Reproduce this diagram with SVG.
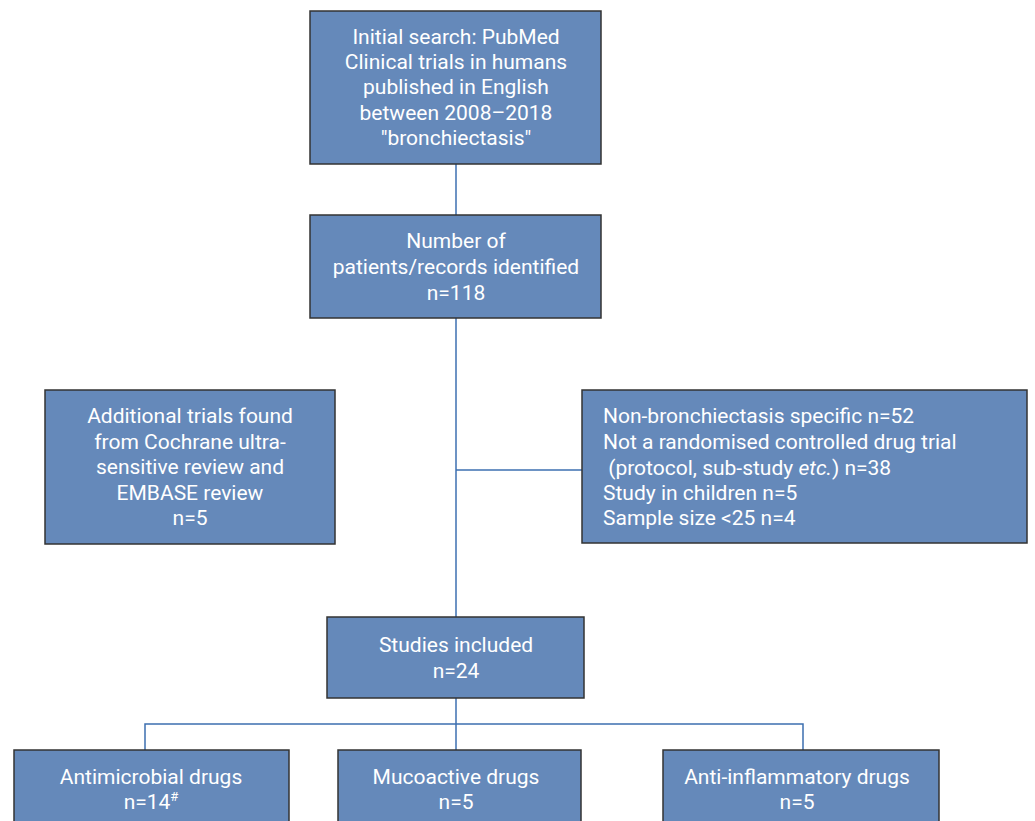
<svg xmlns="http://www.w3.org/2000/svg" width="1035" height="821" viewBox="0 0 1035 821">
<style>
.box{fill:#6589BA;stroke:#333;stroke-width:1.5}
.t{fill:#fff;font-family:Roboto,"Liberation Sans",sans-serif;font-size:21px}
.c{text-anchor:middle}
.ln{stroke:#3C6FB0;stroke-width:1.5;fill:none}
</style>
<rect width="1035" height="821" fill="#fff"/>
<g id="connectors">
<path class="ln" d="M456,164V215"/>
<path class="ln" d="M456,318V617"/>
<path class="ln" d="M456,470H582"/>
<path class="ln" d="M456,698V750"/>
<path class="ln" d="M145,750V724H803V750"/>
</g>
<g id="initial">
<rect class="box" x="310" y="11" width="291" height="153"/>
<text class="t c" x="456" y="44">Initial search: PubMed</text>
<text class="t c" x="456" y="69">Clinical trials in humans</text>
<text class="t c" x="456" y="94">published in English</text>
<text class="t c" x="456" y="120">between 2008–2018</text>
<text class="t c" x="456" y="145">"bronchiectasis"</text>
</g>
<g id="identified">
<rect class="box" x="310" y="215" width="291" height="103"/>
<text class="t c" x="456" y="248">Number of</text>
<text class="t c" x="456" y="274">patients/records identified</text>
<text class="t c" x="456" y="300">n=118</text>
</g>
<g id="additional">
<rect class="box" x="45" y="390" width="290" height="154"/>
<text class="t c" x="190" y="423">Additional trials found</text>
<text class="t c" x="190" y="449">from Cochrane ultra-</text>
<text class="t c" x="190" y="474">sensitive review and</text>
<text class="t c" x="190" y="500">EMBASE review</text>
<text class="t c" x="190" y="525">n=5</text>
</g>
<g id="excluded">
<rect class="box" x="582" y="390" width="445" height="153"/>
<text class="t" x="603" y="423">Non-bronchiectasis specific n=52</text>
<text class="t" x="603" y="449">Not a randomised controlled drug trial</text>
<text class="t" x="603" y="475" xml:space="preserve"> (protocol, sub-study <tspan font-style="italic">etc.</tspan>) n=38</text>
<text class="t" x="603" y="500">Study in children n=5</text>
<text class="t" x="603" y="525">Sample size &lt;25 n=4</text>
</g>
<g id="included">
<rect class="box" x="327" y="617" width="257" height="81"/>
<text class="t c" x="456" y="652">Studies included</text>
<text class="t c" x="456" y="678">n=24</text>
</g>
<g id="antimicrobial">
<rect class="box" x="14" y="750" width="275" height="80"/>
<text class="t c" x="151" y="784">Antimicrobial drugs</text>
<text class="t c" x="151" y="809">n=14<tspan font-size="13" dy="-8">#</tspan></text>
</g>
<g id="mucoactive">
<rect class="box" x="338" y="750" width="243" height="80"/>
<text class="t c" x="456" y="784">Mucoactive drugs</text>
<text class="t c" x="456" y="809">n=5</text>
</g>
<g id="antiinflammatory">
<rect class="box" x="663" y="750" width="276" height="80"/>
<text class="t c" x="797" y="784">Anti-inflammatory drugs</text>
<text class="t c" x="797" y="809">n=5</text>
</g>
</svg>
